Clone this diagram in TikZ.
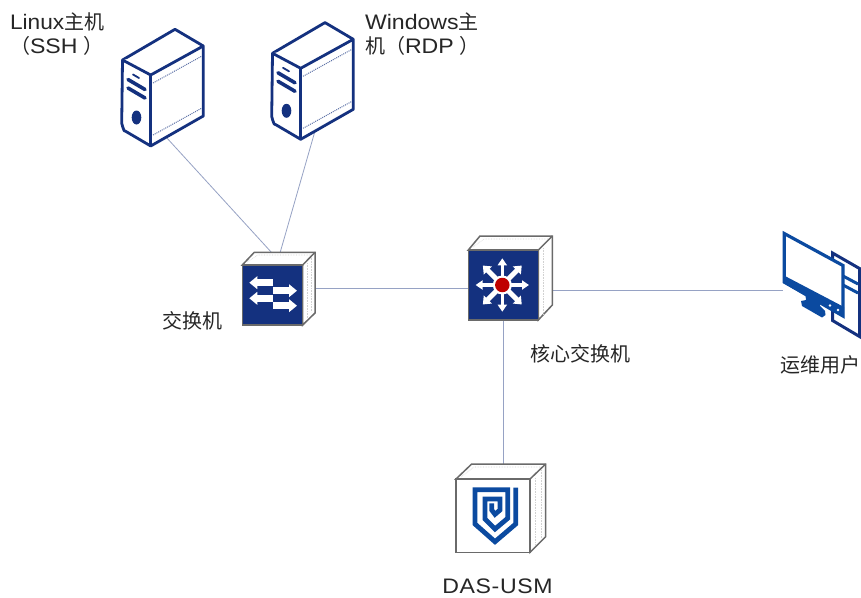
\documentclass[tikz,border=0pt]{standalone}
\usepackage{fontspec}
\setmainfont{Liberation Sans}
\newfontfamily\cjk{Noto Sans CJK SC}
\newfontfamily\lsa[FakeStretch=1.08]{Liberation Sans}
\newfontfamily\lsb[FakeStretch=1.1]{Liberation Sans}
\newfontfamily\lsc[FakeStretch=1.1]{Liberation Sans}
\newfontfamily\lsd[FakeStretch=1.1,LetterSpace=3]{Liberation Sans}
\usetikzlibrary{arrows.meta}
\definecolor{navy}{HTML}{14317F}
\definecolor{blue2}{HTML}{0B4AA0}
\definecolor{link}{HTML}{96A2C4}
\definecolor{edge}{HTML}{6A6A6A}
\tikzset{
  lbl/.style={inner sep=0pt,outer sep=0pt,font=\fontsize{21}{24}\selectfont,align=left,text=black!85},
  linkline/.style={draw=link,line width=0.8pt},
  srv/.style={draw=navy,line width=2.8pt,line join=round,fill=white},
  srvthin/.style={draw=navy!70,line width=1pt,densely dotted},
  cube/.style={draw=edge,line width=1.5pt,line join=miter,fill=white},
  cubedot/.style={draw=black!18,line width=0.6pt,densely dotted},
  axisarrow/.style={draw=white,line width=3.2pt,-{Triangle[length=7pt,width=9pt,fill=white]}},
  diagarrow/.style={draw=white,line width=5pt,-{Triangle[length=7pt,width=11pt,fill=white]}},
  swarrow/.style={draw=white,line width=6.5pt,-{Triangle[length=8pt,width=12.5pt,fill=white]}},
  port/.style={coordinate}
}
\newcommand{\serverdraw}[2]{%
 \begin{scope}[shift={(#1,#2)}]
  \draw[srv] (122.5,60) -- (175,29.3) -- (203.3,46) -- (203.3,116) -- (150.7,146)
     -- (126,131.5) to[out=215,in=90] (121.7,124) -- cycle;
  \draw[srv] (122.5,60) -- (150.7,75) -- (203.3,46);
  \draw[srv] (150.7,75) -- (150.7,146);
  \draw[srvthin] (153,83) -- (202,56);
  \draw[srvthin] (153,135) -- (202,108);
  \draw[navy,line width=1.8pt,line cap=round] (133,74.5) -- (139,78);
  \draw[navy,line width=3.6pt,line cap=round] (128,79.5) -- (145,89.5);
  \draw[navy,line width=3.6pt,line cap=round] (128,88) -- (145,98);
  \fill[navy] (136.5,117.5) ellipse (4.8 and 7);
 \end{scope}}
\begin{document}
\begin{tikzpicture}[x=1pt,y=-1pt]
\useasboundingbox (0,0) rectangle (861,597);
\fill[white] (0,0) rectangle (861,597);
% ports
\node[port] (s1) at (166,137) {};
\node[port] (s2) at (315,131) {};
\node[port] (swa) at (272,253) {};
\node[port] (swb) at (280,253) {};
\node[port] (swr) at (315,288) {};
\node[port] (cl) at (468,288) {};
\node[port] (cr) at (552,290) {};
\node[port] (cb) at (503,320) {};
\node[port] (u) at (783,290) {};
\node[port] (d) at (503,464) {};
\draw[linkline] (s1) -- (swa);
\draw[linkline] (s2) -- (swb);
\draw[linkline] (swr) -- (cl);
\draw[linkline] (cr) -- (u);
\draw[linkline] (cb) -- (d);
% servers
\serverdraw{0}{0}
\serverdraw{150}{-6.7}
% switch
\draw[cube] (242.3,265) -- (254.3,252.3) -- (315,252.3) -- (315,313) -- (302.7,325) -- (302.7,265) -- cycle;
\draw[cubedot] (247,262) -- (258,255) -- (312,255);
\draw[cubedot] (307,263) -- (307,318);
\draw[cubedot] (311,256) -- (311,312);
\draw[edge,line width=1.5pt] (302.7,265) -- (315,252.3);
\node[draw=edge,fill=navy,line width=1.5pt,minimum width=60.4pt,minimum height=60pt,inner sep=0pt] (sw) at (272.5,295) {};
\draw[swarrow] (273.3,282.7) -- (249.3,282.7);
\draw[swarrow] (273.3,290.7) -- (297,290.7);
\draw[swarrow] (273.3,298.3) -- (249.3,298.3);
\draw[swarrow] (273.3,305.7) -- (297,305.7);
% core
\draw[cube] (468.3,250) -- (480,236) -- (552.3,236) -- (552.3,305) -- (538.3,320) -- (538.3,250) -- cycle;
\draw[cubedot] (473,247) -- (484,239) -- (549,239);
\draw[cubedot] (543,248) -- (543,314);
\draw[edge,line width=1.5pt] (538.3,250) -- (552.3,236);
\node[draw=edge,fill=navy,line width=1.5pt,minimum width=70pt,minimum height=70pt,inner sep=0pt] (core) at (503.3,285) {};
\foreach \a in {0,90,180,270}
  \draw[axisarrow] (502.3,285) -- ++(\a:26.7);
\foreach \a in {45,135,225,315}
  \draw[diagarrow] (502.3,285) -- ++(\a:27.5);
\fill[white] (502.3,285) circle (9.5);
\node[circle,fill=red!75!black,draw=none,minimum size=14.5pt,inner sep=0pt] (hub) at (502.3,285) {};
% DAS
\draw[cube] (456,479) -- (471.7,464) -- (545.7,464) -- (545.7,536.7) -- (530,552.3) -- (530,479) -- cycle;
\draw[cubedot] (461,477) -- (474,467) -- (542,467);
\draw[cubedot] (535,478) -- (535,546);
\draw[cubedot] (541,470) -- (541,538);
\draw[edge,line width=1.5pt] (530,479) -- (545.7,464);
\node[draw=edge,fill=white,line width=1.5pt,minimum width=74pt,minimum height=73.3pt,inner sep=0pt] (das) at (493,515.6) {};
\draw[blue2,line width=4.8pt,line join=miter]
  (515.7,487.7) -- (515.7,524) -- (495,541.7) -- (475,524) -- (475,489.7) -- (507.7,489.7)
  -- (507.7,518.3) -- (495,529) -- (485,519) -- (485,499) -- (500,499) -- (500,510)
  -- (495,514.3) -- (491.7,510) -- (491.7,503.3);
% user monitors
\draw[navy,line width=3pt,line join=miter,fill=white] (832.5,253) -- (859.5,268.5) -- (859.5,336.5) -- (832.5,320.5) -- cycle;
\draw[blue2,line width=3pt] (843,276) -- (858,284);
\draw[blue2,line width=3pt] (843,285) -- (858,293);
\fill[blue2] (805,291) -- (820,300) -- (820,306) -- (825,311) -- (825.5,315) -- (822,317.5) -- (802,306) -- (801,301) -- (806,300) -- cycle;
\draw[blue2,line width=3.2pt,fill=white,line join=miter] (784.2,233.5) -- (843,265.5) -- (843,316) -- (784.2,282) -- cycle;
\fill[blue2] (783,275) -- (844,307) -- (844,317.5) -- (783,283) -- cycle;
\fill[white] (830,305.5) circle (1.4) (838,310) circle (1.4);
% labels
\node[lbl,anchor=north west] (t1) at (10,13) {{\lsa Linux}{\cjk\fontsize{20}{24}\selectfont 主机}\\{\cjk\fontsize{20}{24}\selectfont （}{\lsb SSH}\hspace{6pt}{\cjk\fontsize{20}{24}\selectfont ）}};
\node[lbl,anchor=north west] (t2) at (365,13) {{\lsc Windows}{\cjk\fontsize{20}{24}\selectfont 主}\\{\cjk\fontsize{20}{24}\selectfont 机（}{\lsb RDP}\hspace{6pt}{\cjk\fontsize{20}{24}\selectfont ）}};
\node[lbl,anchor=center,font=\cjk\fontsize{20}{24}\selectfont] (t3) at (192,321) {交换机};
\node[lbl,anchor=center,font=\cjk\fontsize{20}{24}\selectfont] (t4) at (580.5,354) {核心交换机};
\node[lbl,anchor=center,font=\cjk\fontsize{20}{24}\selectfont] (t5) at (820,365) {运维用户};
\node[lbl,anchor=center,font=\lsd\fontsize{21}{24}\selectfont] (t6) at (497.5,586) {DAS-USM};
\end{tikzpicture}
\end{document}
